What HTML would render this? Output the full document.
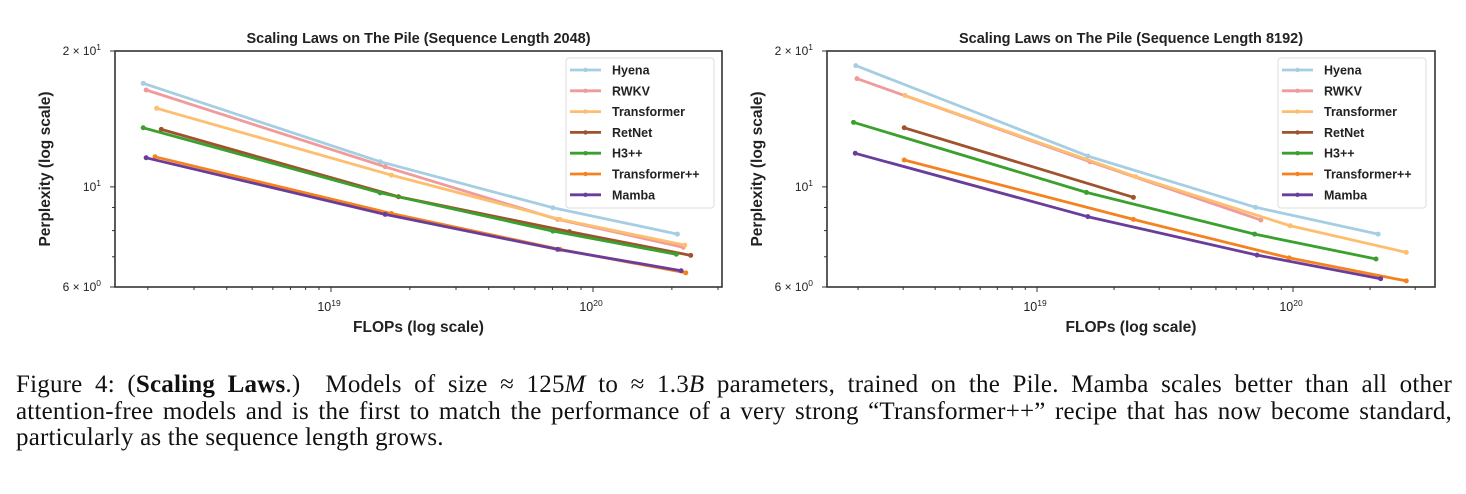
<!DOCTYPE html>
<html><head><meta charset="utf-8"><style>
html,body{margin:0;padding:0;background:#fff;width:1466px;height:494px;overflow:hidden}
#cap{position:absolute;left:16px;top:372px;width:1436px;font-family:"Liberation Serif",serif;font-size:25px;letter-spacing:0.2px;line-height:26.5px;color:#111}
#cap div{white-space:nowrap}
#cap .j{text-align:justify;text-align-last:justify;white-space:normal}
svg text{font-family:"Liberation Sans",sans-serif}
</style></head><body>
<svg id="fig" width="1466" height="360" style="position:absolute;left:0;top:0"></svg>
<div id="cap">
<div class="j">Figure 4: (<b>Scaling Laws</b>.)&nbsp; Models of size ≈ 125<i>M</i> to ≈ 1.3<i>B</i> parameters, trained on the Pile. Mamba scales better than all other</div>
<div class="j">attention-free models and is the first to match the performance of a very strong “Transformer++” recipe that has now become standard,</div>
<div>particularly as the sequence length grows.</div>
</div>
<script>
const seriesNames=["Hyena","RWKV","Transformer","RetNet","H3++","Transformer++","Mamba"];
const seriesColors=["#a6cee3","#f09b9b","#fdbf6f","#a0522d","#3aa02e","#f5821f","#6a3d9a"];
const yTickVals=[20,10,6];
const yTickLabels=["2 × 10","10","6 × 10"];
const yTickSups=["1","1","0"];
const xTickVals=[1e19,1e20];
const xTickSups=["19","20"];
// panel 1 (seq len 2048): FLOPs, perplexity
const p1Flops=[
 [1.92e18,1.54e19,7.03e19,2.10e20],
 [1.97e18,1.61e19,7.33e19,2.21e20],
 [2.16e18,1.70e19,7.48e19,2.24e20],
 [2.25e18,1.81e19,8.13e19,2.36e20],
 [1.92e18,1.54e19,7.03e19,2.08e20],
 [2.13e18,1.70e19,7.48e19,2.26e20],
 [1.97e18,1.61e19,7.33e19,2.17e20]];
const p1Ppl=[
 [16.96,11.37,8.99,7.86],
 [16.39,11.08,8.47,7.35],
 [14.93,10.62,8.47,7.43],
 [13.41,9.51,7.96,7.05],
 [13.52,9.70,7.98,7.09],
 [11.66,8.73,7.27,6.45],
 [11.60,8.69,7.27,6.52]];
// panel 2 (seq len 8192)
const p2Flops=[
 [1.96e18,1.58e19,7.14e19,2.15e20],
 [1.98e18,1.61e19,7.49e19],
 [3.05e18,2.43e19,9.75e19,2.77e20],
 [3.03e18,2.38e19],
 [1.92e18,1.56e19,7.08e19,2.11e20],
 [3.03e18,2.38e19,9.66e19,2.77e20],
 [1.95e18,1.58e19,7.24e19,2.20e20]];
const p2Ppl=[
 [18.56,11.70,9.01,7.86],
 [17.37,11.37,8.44],
 [15.95,10.53,8.20,7.16],
 [13.52,9.48],
 [13.90,9.72,7.86,6.92],
 [11.47,8.47,6.96,6.19],
 [11.87,8.59,7.06,6.26]];

const svg=document.getElementById('fig');
const NS='http://www.w3.org/2000/svg';
function mk(tag,at,parent){const e=document.createElementNS(NS,tag);for(const k in at)e.setAttribute(k,at[k]);(parent||svg).appendChild(e);return e;}

function panel(opt){
 const g=mk('g',{});
 
 
 const L=opt.L,R=opt.R,T=51,B=287;
 const x=v=>opt.x19+(Math.log10(v)-19)*opt.dec;
 const y=v=>T+(Math.log10(20)-Math.log10(v))/(Math.log10(20)-Math.log10(6))*(B-T);
 const t=mk('text',{x:(L+R)/2,y:43,'text-anchor':'middle','font-size':14.5,'font-weight':'bold',fill:'#222'},g);t.textContent=opt.title;
 
 
 for(let d=18;d<=20;d++)for(let m=1;m<=9;m++){const v=m*Math.pow(10,d);const px=x(v);if(px<L||px>R)continue;
  mk('line',{x1:px,x2:px,y1:B,y2:B+(m==1?5:3),stroke:'#333','stroke-width':1},g);}
 for(let d=0;d<=1;d++)for(let m=1;m<=9;m++){const v=m*Math.pow(10,d);const py=y(v);if(py<T-0.5||py>B+0.5)continue;
  mk('line',{x1:L-(yTickVals.includes(v)?5:3),x2:L,y1:py,y2:py,stroke:'#333','stroke-width':1},g);}
 xTickVals.forEach((v,i)=>{const tx=mk('text',{x:x(v)-2,y:B+24,'text-anchor':'middle','font-size':12.5,fill:'#222'},g);
  
  
  tx.innerHTML='10<tspan dy="-5" font-size="8.5">'+xTickSups[i]+'</tspan>';});
 yTickVals.forEach((v,i)=>{const ty=mk('text',{x:L-14,y:y(v)+4,'text-anchor':'end','font-size':12,fill:'#222'},g);
  
  
  ty.innerHTML=yTickLabels[i]+'<tspan dy="-5" font-size="8.5">'+yTickSups[i]+'</tspan>';});
 const xl=mk('text',{x:(L+R)/2,y:332,'text-anchor':'middle','font-size':15.5,'font-weight':'bold',fill:'#222'},g);xl.textContent='FLOPs (log scale)';
 
 
 const yl=mk('text',{x:0,y:0,transform:`translate(${L-65},${(T+B)/2}) rotate(-90)`,'text-anchor':'middle','font-size':15.5,'font-weight':'bold',fill:'#222'},g);yl.textContent='Perplexity (log scale)';
 
 
 opt.fl.forEach((xs,s)=>{const sg=mk('g',{},g);
  
  
  const pts=xs.map((v,i)=>x(v).toFixed(1)+','+y(opt.pp[s][i]).toFixed(1)).join(' ');
  mk('polyline',{points:pts,fill:'none',stroke:seriesColors[s],'stroke-width':2.8,'stroke-linejoin':'round'},sg);
  xs.forEach((v,i)=>{const c=mk('circle',{cx:x(v),cy:y(opt.pp[s][i]),r:2.5,fill:seriesColors[s]},sg);
   
   });
 });
 mk('rect',{x:L,y:T,width:R-L,height:B-T,fill:'none',stroke:'#333','stroke-width':1.6},g);
 const lg=mk('g',{},g);
 
 
 mk('rect',{x:opt.lx,y:58,width:148,height:150,rx:3,fill:'#fff',stroke:'#ddd','stroke-width':1},lg);
 seriesNames.forEach((n,i)=>{const ly=70+i*20.8;const e=mk('g',{},lg);
  
  
  mk('line',{x1:opt.lx+4,x2:opt.lx+35,y1:ly,y2:ly,stroke:seriesColors[i],'stroke-width':2.8},e);
  mk('circle',{cx:opt.lx+19.5,cy:ly,r:2.2,fill:seriesColors[i]},e);
  const tt=mk('text',{x:opt.lx+46,y:ly+4.5,'font-size':12.5,fill:'#222','font-weight':'bold'},e);tt.textContent=n;});
}
panel({name:'chart-seq-2048',L:115,R:722,x19:331,dec:262,fl:p1Flops,pp:p1Ppl,lx:566,title:'Scaling Laws on The Pile (Sequence Length 2048)'});
panel({name:'chart-seq-8192',L:827,R:1435,x19:1037,dec:256,fl:p2Flops,pp:p2Ppl,lx:1278,title:'Scaling Laws on The Pile (Sequence Length 8192)'});
</script>
</body></html>
